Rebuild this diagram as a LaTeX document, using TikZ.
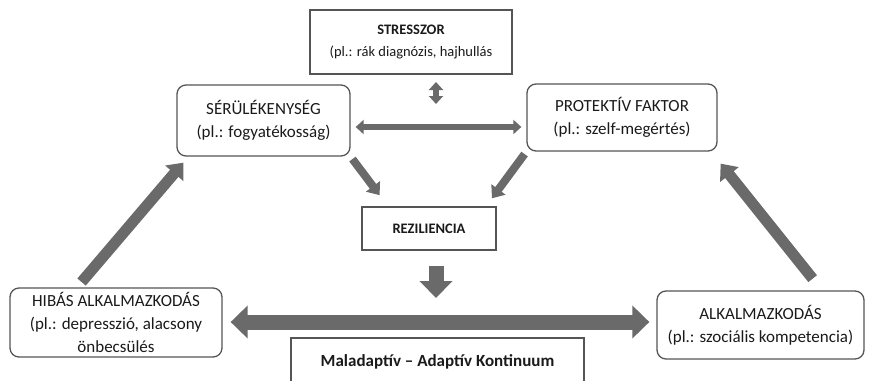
\documentclass[tikz,border=0pt]{standalone}
\usepackage{fontspec}
\setmainfont{Carlito}
\usetikzlibrary{arrows.meta}
\definecolor{boxline}{HTML}{555555}
\definecolor{arrowfill}{HTML}{6A6A6A}
\definecolor{textcol}{HTML}{1A1A1A}
\tikzset{
  box/.style={draw=boxline,line width=1.3pt,align=center,text=textcol,inner sep=0pt},
  roundbox/.style={box,rounded corners=9pt},
  smalltext/.style={font=\fontsize{14.5}{22}\selectfont},
  thinarrow/.style={draw=arrowfill,line width=6pt,{Triangle[width=14pt,length=8pt]}-{Triangle[width=14pt,length=8pt]}},
  midarrow/.style={draw=arrowfill,line width=8pt,-{Triangle[width=17pt,length=11pt]}},
  diagarrow/.style={draw=arrowfill,line width=11pt,-{Triangle[width=23pt,length=14pt]}},
  bigarrow/.style={draw=arrowfill,line width=15pt,-{Triangle[width=32pt,length=17pt]}},
}
\begin{document}
\begin{tikzpicture}[x=1pt,y=-1pt,font=\fontsize{17}{23}\selectfont]
    \useasboundingbox(0,0)rectangle(875,380);
    % boxes
    \node[box,smalltext,minimum width=202,minimum height=64](stressor)at(411,42){\textbf{STRESSZOR}\\(pl.: rák diagnózis, hajhullás};
    \node[roundbox,minimum width=173,minimum height=71](seru)at(263.5,120.5){SÉRÜLÉKENYSÉG\\(pl.: fogyatékosság)};
    \node[roundbox,minimum width=190,minimum height=67](prot)at(622,117.5){PROTEKTÍV FAKTOR\\(pl.: szelf-megértés)};
    \node[box,smalltext,minimum width=134,minimum height=43](rez)at(429,228.5){\textbf{REZILIENCIA}};
    \node[roundbox,minimum width=212,minimum height=69](hibas)at(116,322.5){HIBÁS ALKALMAZKODÁS\\(pl.: depresszió, alacsony\\önbecsülés};
    \node[roundbox,minimum width=207,minimum height=68](alk)at(760.5,325){ALKALMAZKODÁS\\(pl.: szociális kompetencia)};
    \node[text=textcol](kont)at(437.5,362){\textbf{Maladaptív – Adaptív Kontinuum}};
    \draw[boxline,line width=1.3pt](291,385)--(291,338)--(584,338)--(584,385);
    % arrows
    \coordinate(vtop)at(436,82);
    \coordinate(vbot)at(436,104);
    \draw[thinarrow](vtop)--(vbot);
    \draw[thinarrow,shorten <=5pt,shorten >=5pt](seru.east|-0,127)--(prot.west|-0,127);
    \draw[midarrow,shorten <=3pt,shorten >=14pt](seru.south east)--(rez.north west-|388,0);
    \draw[midarrow,shorten <=3pt,shorten >=10pt](prot.south west)--(rez.north east-|486,0);
    \draw[bigarrow,shorten <=15pt,shorten >=9pt](rez.south-|436,0)--(436,307);
    \draw[bigarrow,{Triangle[width=32pt,length=17pt]}-{Triangle[width=32pt,length=17pt]},shorten <=8pt,shorten >=7pt](hibas.east|-0,322)--(alk.west|-0,322);
    \draw[diagarrow,shorten <=7pt](hibas.north-|77,0)--([shift={(7,6)}]seru.south west);
    \draw[diagarrow,shorten <=15pt](alk.north-|822,0)--([shift={(3,12)}]prot.south east);
\end{tikzpicture}
\end{document}
